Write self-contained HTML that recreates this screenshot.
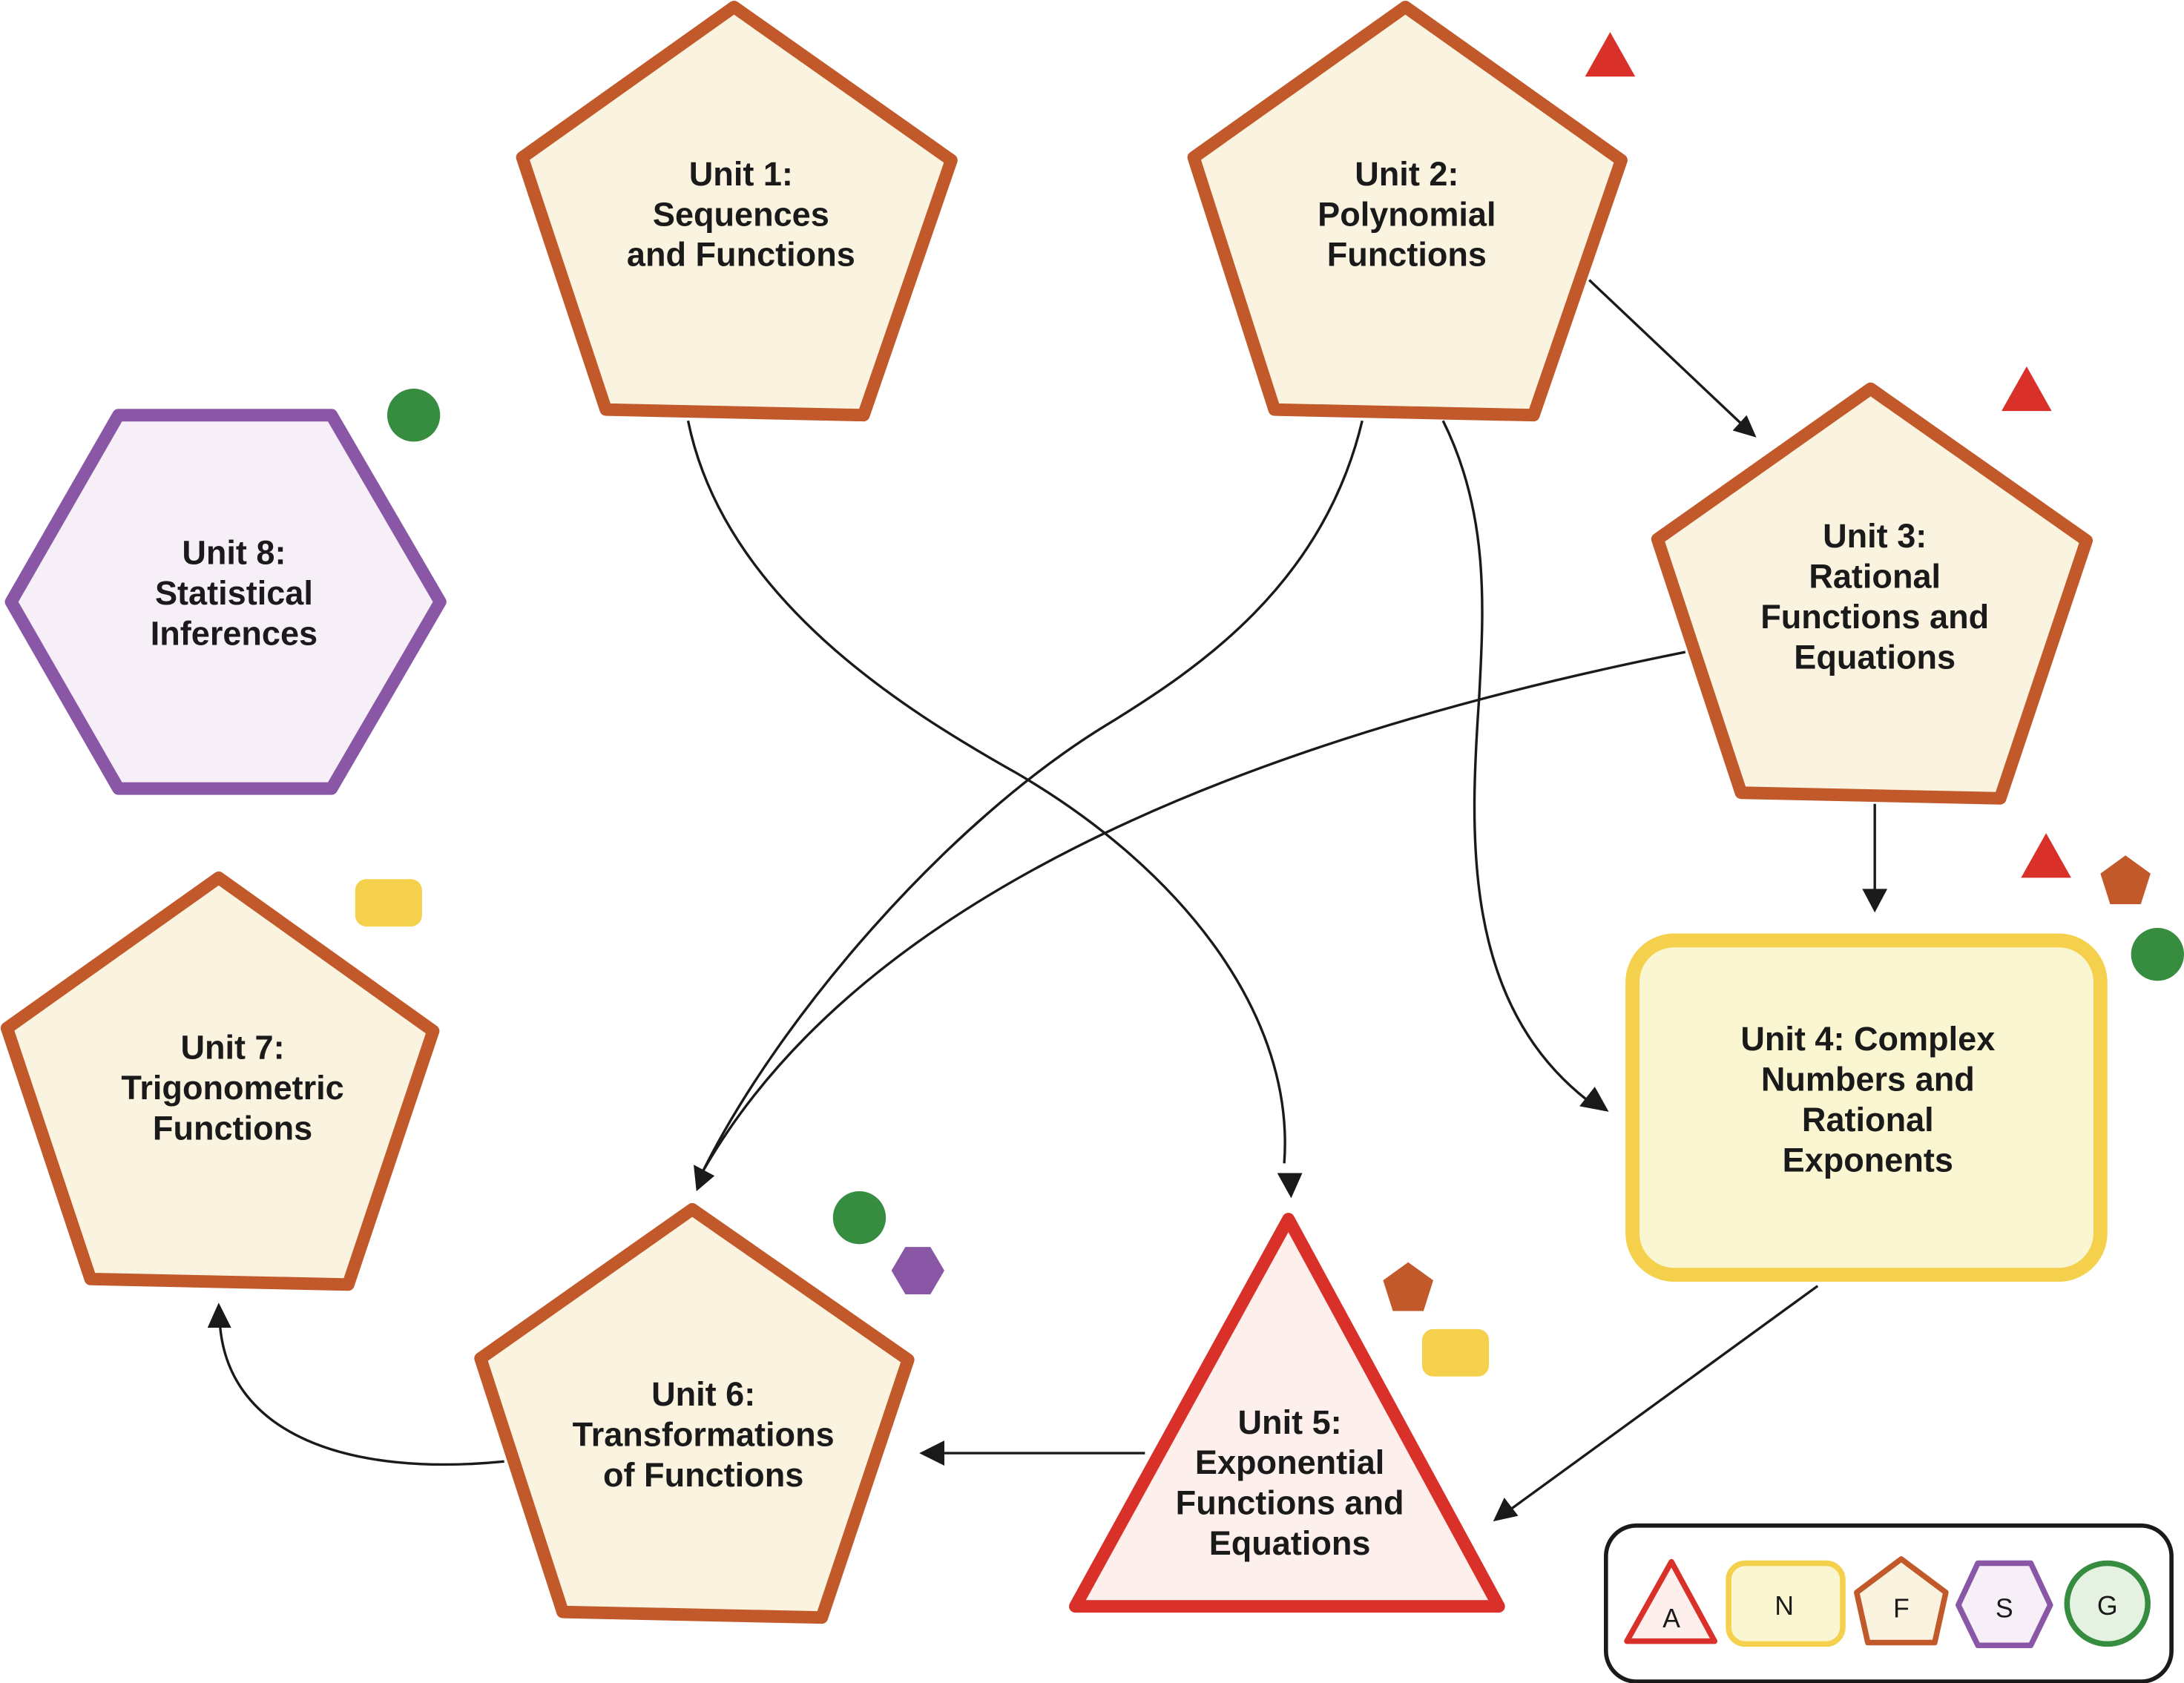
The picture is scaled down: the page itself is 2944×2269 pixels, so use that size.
<!DOCTYPE html>
<html><head><meta charset="utf-8"><style>
html,body{margin:0;padding:0;background:#fff;}
svg{display:block;}
text{font-family:"Liberation Sans",sans-serif;font-weight:bold;fill:#1a1a1a;text-anchor:middle;}
.leg text{font-weight:normal;font-size:19px;}
</style></head><body>
<svg width="2944" height="2269" viewBox="0 0 1568 1208" preserveAspectRatio="none" xmlns="http://www.w3.org/2000/svg">
<defs>
<marker id="ah" viewBox="0 0 10 10" refX="9" refY="5" markerWidth="7" markerHeight="7" markerUnits="userSpaceOnUse" orient="auto">
<path d="M0,0 L10,5 L0,10 z" fill="#1a1a1a"/></marker>
</defs>
<g stroke="#1a1a1a" stroke-width="1.8" fill="none">
<path d="M494,302 C520,430 650,510 730,555 C850,625 930,730 922,835" marker-end="url(#ah)" style="marker-end:none"/>
<path d="M978,302 C950,420 860,480 795,520 C680,590 560,730 505,840"/>
<path d="M1036,302 C1070,370 1065,440 1062,500 C1055,600 1050,720 1140,790"/>
<path d="M1210,468 C900,530 620,640 505,840"/>
<line x1="1141" y1="201" x2="1250" y2="304"/>
<line x1="1346" y1="577" x2="1346" y2="640"/>
<line x1="1305" y1="923" x2="1085" y2="1083"/>
<line x1="822" y1="1043" x2="676" y2="1043"/>
<path d="M362,1049 C250,1060 165,1030 158,952"/>
</g>
<g fill="#1a1a1a">
<polygon points="1261,314 1244,309 1254,298"/>
<polygon points="1346,655 1337,638 1355,638"/>
<polygon points="1072,1092 1080,1075 1090,1088"/>
<polygon points="660,1043 678,1034 678,1052"/>
<polygon points="157,935 149,953 166,953"/>
<polygon points="927,860 917,842 935,842"/>
<polygon points="500,855 498,836 513,844"/>
<polygon points="1155,798 1134,794 1145,780"/>
</g>
<g stroke-width="9" stroke-linejoin="round">
<polygon points="527,5 683,115 620,298 435,294 375,113" fill="#faf3df" stroke="#c2592a"/>
<polygon points="1009,5 1164,115 1101,298 915,294 857,113" fill="#faf3df" stroke="#c2592a"/>
<polygon points="1343,279 1498,388 1436,573 1250,569 1190,387" fill="#faf3df" stroke="#c2592a"/>
<polygon points="497,868 652,976 590,1161 404,1157 345,975" fill="#faf3df" stroke="#c2592a"/>
<polygon points="157,630 311,740 250,922 65,918 5,738" fill="#faf3df" stroke="#c2592a"/>
<polygon points="85,298 238,298 316,432 238,566 85,566 8,432" fill="#f6eff7" stroke="#8a57a6"/>
<rect x="1172" y="675" width="336" height="240" rx="30" fill="#faf6d2" stroke="#f5d04c" stroke-width="10"/>
<polygon points="925,875 1076,1153 772,1153" fill="#fcefec" stroke="#d9312a"/>
</g>
<g>
<polygon points="1156,23 1174,55 1138,55" fill="#d9312a"/>
<polygon points="1455,263 1473,295 1437,295" fill="#d9312a"/>
<polygon points="1469,598 1487,630 1451,630" fill="#d9312a"/>
<circle cx="297" cy="298" r="19" fill="#368c3f"/>
<circle cx="1549" cy="685" r="19" fill="#368c3f"/>
<circle cx="617" cy="874" r="19" fill="#368c3f"/>
<rect x="255" y="631" width="48" height="34" rx="8" fill="#f5d04c"/>
<rect x="1021" y="954" width="48" height="34" rx="8" fill="#f5d04c"/>
<polygon points="1526,614 1544,627 1537,649 1515,649 1508,627" fill="#c2592a"/>
<polygon points="1011,906 1029,919 1022,941 1000,941 993,919" fill="#c2592a"/>
<polygon points="650,895 668,895 678,912 668,929 650,929 640,912" fill="#8a57a6"/>
</g>
<g font-size="24">
<text x="532" y="133">Unit 1:</text><text x="532" y="162">Sequences</text><text x="532" y="191">and Functions</text>
<text x="1010" y="133">Unit 2:</text><text x="1010" y="162">Polynomial</text><text x="1010" y="191">Functions</text>
<text x="1346" y="393">Unit 3:</text><text x="1346" y="422">Rational</text><text x="1346" y="451">Functions and</text><text x="1346" y="480">Equations</text>
<text x="1341" y="754">Unit 4: Complex</text><text x="1341" y="783">Numbers and</text><text x="1341" y="812">Rational</text><text x="1341" y="841">Exponents</text>
<text x="926" y="1029">Unit 5:</text><text x="926" y="1058">Exponential</text><text x="926" y="1087">Functions and</text><text x="926" y="1116">Equations</text>
<text x="505" y="1009">Unit 6:</text><text x="505" y="1038">Transformations</text><text x="505" y="1067">of Functions</text>
<text x="167" y="760">Unit 7:</text><text x="167" y="789">Trigonometric</text><text x="167" y="818">Functions</text>
<text x="168" y="405">Unit 8:</text><text x="168" y="434">Statistical</text><text x="168" y="463">Inferences</text>
</g>
<g class="leg" stroke-width="4" stroke-linejoin="round">
<rect x="1153" y="1095" width="406" height="112" rx="22" fill="#fff" stroke="#1a1a1a" stroke-width="3"/>
<polygon points="1200,1121 1231,1178 1168,1178" fill="#fcefec" stroke="#d9312a"/>
<rect x="1241" y="1122" width="82" height="58" rx="12" fill="#faf6d2" stroke="#f5d04c"/>
<polygon points="1365,1119 1397,1143 1389,1179 1341,1179 1333,1143" fill="#faf3df" stroke="#c2592a"/>
<polygon points="1420,1122 1458,1122 1472,1152 1458,1181 1420,1181 1406,1152" fill="#f6eff7" stroke="#8a57a6"/>
<ellipse cx="1513" cy="1151" rx="29" ry="29" fill="#e6f2e1" stroke="#368c3f"/>
<text x="1200" y="1168" stroke="none">A</text>
<text x="1281" y="1159" stroke="none">N</text>
<text x="1365" y="1161" stroke="none">F</text>
<text x="1439" y="1161" stroke="none">S</text>
<text x="1513" y="1159" stroke="none">G</text>
</g>
</svg>
</body></html>
